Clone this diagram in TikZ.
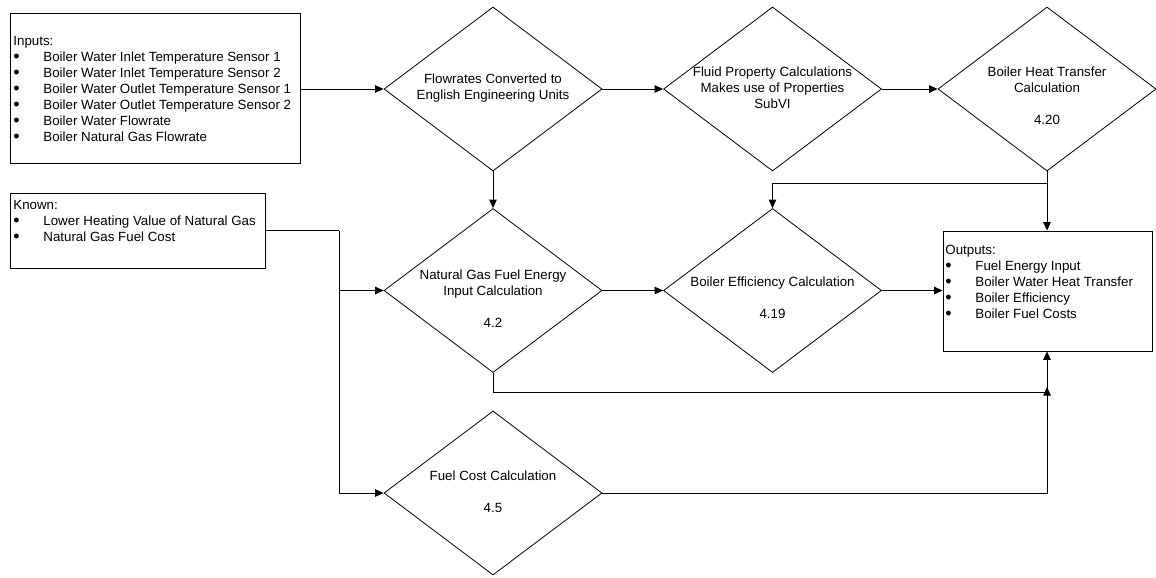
\documentclass[tikz,border=0pt]{standalone}
\usepackage{fontspec}
\usepackage{graphicx}
\setmainfont{Liberation Sans}
\usetikzlibrary{shapes.geometric,arrows.meta}
\newcommand{\bigbullet}{\raisebox{-0.1em}{\scalebox{1.35}{\textbullet}}}
\newcommand{\bulletlist}[2]{%
  \begin{tabular}[t]{@{}p{30pt}@{}l@{}}
  \multicolumn{2}{@{}l@{}}{#1}\\
  #2
  \end{tabular}}
\begin{document}
\begin{tikzpicture}[x=1pt,y=-1pt,
  line width=0.8pt,
  box/.style={draw, rectangle, inner sep=0pt},
  decision/.style={draw, diamond, inner sep=0pt, minimum width=218pt, minimum height=164pt},
  txt/.style={font=\fontsize{13.33}{16}\selectfont, inner sep=0pt},
  ctext/.style={txt, align=center},
  flow/.style={-{Triangle[length=8.5pt,width=7.5pt]}},
]
\useasboundingbox (0,0) rectangle (1156,578);

% rectangles: inputs, known values, outputs
\node[box, minimum width=290pt, minimum height=150pt] (inputs) at (155,88) {};
\node[box, minimum width=255pt, minimum height=75pt] (known) at (137.5,230.5) {};
\node[box, minimum width=209pt, minimum height=120pt] (out) at (1047.5,291) {};

\node[txt, anchor=base west] (intext) at (13,45.5) {\bulletlist{Inputs:}{%
  \bigbullet & Boiler Water Inlet Temperature Sensor 1\\
  \bigbullet & Boiler Water Inlet Temperature Sensor 2\\
  \bigbullet & Boiler Water Outlet Temperature Sensor 1\\
  \bigbullet & Boiler Water Outlet Temperature Sensor 2\\
  \bigbullet & Boiler Water Flowrate\\
  \bigbullet & Boiler Natural Gas Flowrate}};
\node[txt, anchor=base west] (kntext) at (13,209.5) {\bulletlist{Known:}{%
  \bigbullet & Lower Heating Value of Natural Gas\\
  \bigbullet & Natural Gas Fuel Cost}};
\node[txt, anchor=base west] (outtext) at (945,254.5) {\bulletlist{Outputs:}{%
  \bigbullet & Fuel Energy Input\\
  \bigbullet & Boiler Water Heat Transfer\\
  \bigbullet & Boiler Efficiency\\
  \bigbullet & Boiler Fuel Costs}};

% calculation steps
\node[decision] (d1) at (493,89) {};
\node[decision] (d2) at (772.5,89) {};
\node[decision] (d3) at (1047,89) {};
\node[decision] (d4) at (493,290.5) {};
\node[decision] (d5) at (772.5,290.5) {};
\node[decision] (d6) at (493,493) {};

\node[ctext] (t1) at (493,88) {Flowrates Converted to\\English Engineering Units};
\node[ctext] (t2) at (772.5,88) {Fluid Property Calculations\\Makes use of Properties\\SubVI};
\node[ctext] (t3) at (1047,96) {Boiler Heat Transfer\\Calculation\\~\\4.20};
\node[ctext] (t4) at (493,299) {Natural Gas Fuel Energy\\Input Calculation\\~\\4.2};
\node[ctext] (t5) at (772.5,298) {Boiler Efficiency Calculation\\~\\4.19};
\node[ctext] (t6) at (493,492) {Fuel Cost Calculation\\~\\4.5};

% junction points
\coordinate (kx) at (339,230.5);
\coordinate (br) at (1047,183);
\coordinate (jn) at (1047,392);

% connectors
\draw[flow] (inputs.east |- d1.west) -- (d1.west);
\draw[flow] (d1.east) -- (d2.west);
\draw[flow] (d2.east) -- (d3.west);
\draw[flow] (d1.south) -- (d4.north);
\draw[flow] (d3.south) -- (d3.south |- out.north);
\draw[flow] (br) -| (d5.north);
\draw (known.east) -- (kx);
\draw[flow] (kx) |- (d6.west);
\draw[flow] (kx |- d4.west) -- (d4.west);
\draw[flow] (d4.east) -- (d5.west);
\draw[flow] (d5.east) -- (d5.east -| out.west);
\draw[flow] (d4.south) |- (jn) -- (jn |- out.south);
\draw[flow, shorten >=-5pt] (d6.east) -| (jn);
\end{tikzpicture}
\end{document}
